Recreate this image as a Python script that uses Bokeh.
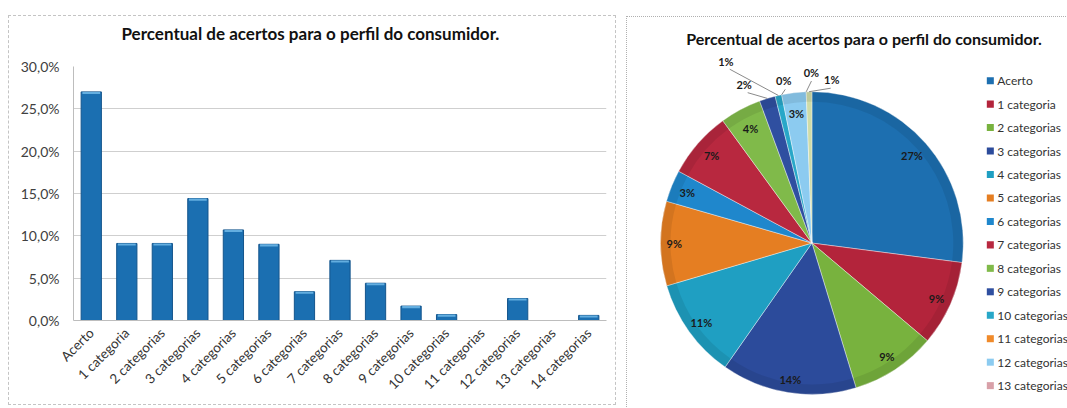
import math

from bokeh.core.properties import value
from bokeh.embed import file_html
from bokeh.layouts import column, row
from bokeh.models import (ColumnDataSource, CustomJSTickFormatter, FactorRange,
                          FixedTicker, Range1d)
from bokeh.plotting import figure
from bokeh.resources import INLINE

# ---- data -------------------------------------------------------------
categories = ["Acerto", "1 categoria", "2 categorias", "3 categorias",
              "4 categorias", "5 categorias", "6 categorias", "7 categorias",
              "8 categorias", "9 categorias", "10 categorias", "11 categorias",
              "12 categorias", "13 categorias", "14 categorias"]
percent = [27.0, 9.1, 9.1, 14.4, 10.7, 9.0, 3.4, 7.1, 4.4, 1.7, 0.7, 0.0,
           2.6, 0.0, 0.6]
y_ticks = [0, 5, 10, 15, 20, 25, 30]
title_text = "Percentual de acertos para o perfil do consumidor."

# ---- styling ----------------------------------------------------------
FONT = "Lato"
slice_colors = ["#1d6fb0", "#b3243b", "#78b23e", "#2c4b9b", "#1f9fc2",
                "#e57e22", "#1f87cc", "#b8283f", "#80ba4a", "#2f4fa0",
                "#28a7c8", "#f08a2a", "#8ccbf0", "#d8a0a8", "#cfdca8"]
# label placement: radius as a fraction of the pie radius, angular nudge (deg)
label_r = [0.88, 0.9, 0.9, 0.91, 0.9, 0.91, 0.89, 0.88, 0.86, 1.14, 1.33,
           1.09, 0.86, 1.13, 1.09]
label_nudge = [0, 0, 0, 0, 0, 0, 0, 0, 0, 6, 12.5, -1.7, 0, -2, -8]

# ---- bar chart --------------------------------------------------------
bars = figure(width=608, height=390, x_range=FactorRange(*categories),
              y_range=Range1d(0, 30), output_backend="svg",
              toolbar_location=None, tools="",
              min_border_left=64, min_border_right=11, min_border_top=50,
              min_border_bottom=86, margin=(15, 0, 0, 8),
              styles={"border": "1px dashed #c4c4c4"})
# the blank second line keeps the heading high above the plot area
bars.title.text = title_text + "\n "
bars.title.align = "left"
bars.title.offset = 48
bars.title.text_font = FONT
bars.title.text_font_size = "17px"
bars.title.text_line_height = 1.05
bars.title.text_color = "#111111"
bars.title.standoff = 0
bars.outline_line_color = None

bars.vbar(x=categories, top=percent, width=0.57, fill_color="#1b6fb1",
          line_color="#14558c", line_width=1)
# light cap along the top of each bar
caps = [(c, v) for c, v in zip(categories, percent) if v > 0]
bars.vbar(x=[c for c, _ in caps], top=[v for _, v in caps],
          bottom=[v - 0.25 for _, v in caps], width=0.5,
          fill_color="#63aee0", line_color=None)

bars.yaxis.ticker = FixedTicker(ticks=y_ticks)
bars.yaxis.formatter = CustomJSTickFormatter(
    code="return tick.toFixed(1).replace('.', ',') + '%';")
bars.yaxis.major_label_text_font = FONT
bars.yaxis.major_label_text_font_size = "14px"
bars.yaxis.major_label_text_color = "#404040"
bars.yaxis.axis_line_color = "#bdbdbd"
bars.yaxis.major_tick_line_color = None
bars.yaxis.minor_tick_line_color = None
bars.yaxis.major_label_standoff = 8

bars.xaxis.major_label_orientation = math.pi / 4
bars.xaxis.major_label_text_font = FONT
bars.xaxis.major_label_text_font_size = "13.5px"
bars.xaxis.major_label_text_color = "#333333"
bars.xaxis.axis_line_color = "#bdbdbd"
bars.xaxis.major_tick_line_color = None
bars.xaxis.major_label_standoff = 4

bars.xgrid.grid_line_color = None
bars.ygrid.grid_line_color = "#cfcfcf"
bars.ygrid.grid_line_width = 1

# ---- pie chart ---------------------------------------------------------
PAGE_H = 408
pie = figure(frame_width=441, frame_height=392, x_range=Range1d(626, 1067),
             y_range=Range1d(0, 392), output_backend="svg",
             toolbar_location=None, tools="", min_border=0,
             margin=(16, 0, 0, 10),
             styles={"border-left": "1px dotted #b0b0b0",
                     "border-top": "1px dotted #b0b0b0"})
pie.title = None
pie.axis.visible = False
pie.grid.visible = False
pie.outline_line_color = None

cx, cy, R = 810, PAGE_H - 241, 151
total = sum(percent)
starts, ends, mids = [], [], []
acc = 0.0
for v in percent:
    f0 = acc / total
    acc += v
    f1 = acc / total
    starts.append(math.pi / 2 - 2 * math.pi * f0)
    ends.append(math.pi / 2 - 2 * math.pi * f1)
    mids.append(math.pi / 2 - math.pi * (f0 + f1))

nz = [i for i, v in enumerate(percent) if v > 0]
wedges = ColumnDataSource(dict(
    start=[starts[i] for i in nz], end=[ends[i] for i in nz],
    color=[slice_colors[i] for i in nz]))
pie.wedge(x=cx, y=cy, radius=R, start_angle="start", end_angle="end",
          direction="clock", fill_color="color", line_color="#ffffff",
          line_alpha=0.5, line_width=0.8, source=wedges)
# soft darker rim for a shaded look
pie.annular_wedge(x=cx, y=cy, inner_radius=R - 10, outer_radius=R,
                  start_angle=[starts[i] for i in nz],
                  end_angle=[ends[i] for i in nz], direction="clock",
                  fill_color="#000000", fill_alpha=0.08, line_color=None)

lx, ly, lab, seg = [], [], [], ([], [], [], [])
for i, v in enumerate(percent):
    ang = mids[i] + math.radians(label_nudge[i])
    r = label_r[i] * R
    lx.append(cx + r * math.cos(ang))
    ly.append(cy + r * math.sin(ang))
    lab.append(f"{round(v / total * 100):.0f}%")
    if label_r[i] > 1:
        seg[0].append(cx + R * math.cos(mids[i]))
        seg[1].append(cy + R * math.sin(mids[i]))
        seg[2].append(cx + (r - 9) * math.cos(ang))
        seg[3].append(cy + (r - 9) * math.sin(ang))

pie.segment(x0=seg[0], y0=seg[1], x1=seg[2], y1=seg[3],
            line_color="#8a8a8a", line_width=1)
pie.text(x=lx, y=ly, text=lab, text_align="center", text_baseline="middle",
         text_font=value(FONT), text_font_size="11px",
         text_font_style="bold", text_color="#1a1a1a")

pie.text(x=[862], y=[PAGE_H - 37], text=[title_text], text_align="center",
         text_baseline="middle", text_font=value(FONT),
         text_font_size="16px", text_font_style="bold",
         text_color="#111111")

# legend column
legend_items = categories[:14]
leg_y = [PAGE_H - 79 - 23.4 * k for k in range(len(legend_items))]
pie.rect(x=[988] * len(legend_items), y=leg_y, width=7, height=7,
         fill_color=slice_colors[:len(legend_items)], line_color=None)
pie.text(x=[995] * len(legend_items), y=leg_y, text=legend_items,
         text_align="left", text_baseline="middle", text_font=value(FONT),
         text_font_size="12px", text_color="#333333")

layout = row(bars, column(pie), spacing=0)
open("out.html", "w").write(file_html(layout, INLINE))
